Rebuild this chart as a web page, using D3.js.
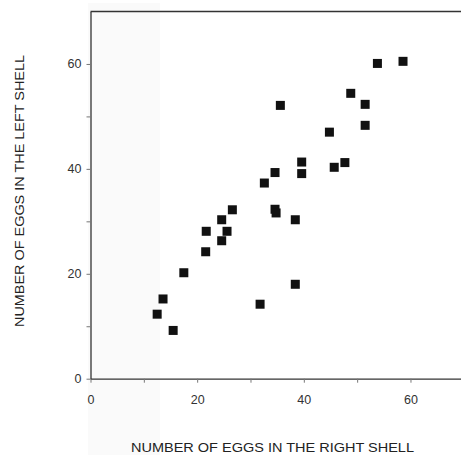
<!DOCTYPE html>
<html>
<head>
<meta charset="utf-8">
<script src="https://cdn.jsdelivr.net/npm/d3@7"></script>
<style>
  body { margin: 0; background: #fff; }
  svg { display: block; font-family: "Liberation Sans", Arial, sans-serif; }
</style>
</head>
<body>
<svg id="chart" width="461" height="455"></svg>
<script>
// eggs counted in right shell (x) and left shell (y)
const rightShell = [12.5, 13.6, 15.5, 17.5, 21.7, 21.6, 24.6, 24.6, 25.6, 26.6,
                    31.8, 32.6, 34.6, 34.6, 34.8, 35.6, 38.4, 38.4, 39.6, 39.6,
                    44.8, 45.7, 47.7, 48.8, 51.5, 51.5, 53.8, 58.6];
const leftShell  = [12.3, 15.2, 9.2, 20.2, 28.1, 24.2, 30.3, 26.3, 28.1, 32.2,
                    14.2, 37.3, 39.3, 32.3, 31.6, 52.1, 30.3, 18.0, 41.3, 39.1,
                    47.0, 40.3, 41.2, 54.4, 52.3, 48.3, 60.1, 60.5];
const tickValues = [0, 10, 20, 30, 40, 50, 60];
const tickLabels = ['0', '', '20', '', '40', '', '60'];
const xTitle = 'NUMBER OF EGGS IN THE RIGHT SHELL';
const yTitle = 'NUMBER OF EGGS IN THE LEFT SHELL';

const points = rightShell.map((r, i) => ({ x: r, y: leftShell[i] }));

const svg = d3.select('#chart');
const margin = { left: 90.5, top: 11.5 };

const x = d3.scaleLinear().domain([0, 70]).range([margin.left, margin.left + 70 * 5.333]);
const y = d3.scaleLinear().domain([0, 70]).range([378.7, margin.top]);

// faint paper tone from the scan
svg.append('rect')
    .attr('x', 88).attr('y', 3).attr('width', 72).attr('height', 452)
    .attr('fill', '#fafafa');

const axisColor = '#333';

// x axis
const gx = svg.append('g')
    .attr('transform', `translate(0,${y(0)})`)
    .call(d3.axisBottom(x)
        .tickValues(tickValues)
        .tickFormat((d, i) => tickLabels[i])
        .tickSize(4)
        .tickSizeOuter(0)
        .tickPadding(12));

// y axis
const gy = svg.append('g')
    .attr('transform', `translate(${x(0)},0)`)
    .call(d3.axisLeft(y)
        .tickValues(tickValues)
        .tickFormat((d, i) => tickLabels[i])
        .tickSize(4)
        .tickSizeOuter(0)
        .tickPadding(5));

[gx, gy].forEach(g => {
    g.select('.domain').attr('stroke', axisColor).attr('stroke-width', 1.3);
    g.selectAll('.tick line').attr('stroke', '#777').attr('stroke-width', 1);
    g.selectAll('.tick text')
        .attr('fill', '#333')
        .attr('font-size', 12.5)
        .style('font-family', '"Liberation Sans", Arial, sans-serif');
});

// top frame line
svg.append('line')
    .attr('x1', x(0)).attr('x2', x(70))
    .attr('y1', y(70)).attr('y2', y(70))
    .attr('stroke', axisColor)
    .attr('stroke-width', 1.3);

// points
const size = 9;
svg.append('g')
    .selectAll('rect')
    .data(points)
    .enter().append('rect')
    .attr('x', d => x(d.x) - size / 2)
    .attr('y', d => y(d.y) - size / 2)
    .attr('width', size)
    .attr('height', size)
    .attr('fill', '#111');

// axis titles
svg.append('text')
    .attr('x', 272.5)
    .attr('y', 451.5)
    .attr('text-anchor', 'middle')
    .attr('font-size', 13)
    .attr('fill', '#222')
    .attr('textLength', 283)
    .attr('lengthAdjust', 'spacingAndGlyphs')
    .text(xTitle);

svg.append('text')
    .attr('transform', 'translate(23.5,191) rotate(-90)')
    .attr('text-anchor', 'middle')
    .attr('font-size', 13)
    .attr('fill', '#222')
    .attr('textLength', 272)
    .attr('lengthAdjust', 'spacingAndGlyphs')
    .text(yTitle);
</script>
</body>
</html>
